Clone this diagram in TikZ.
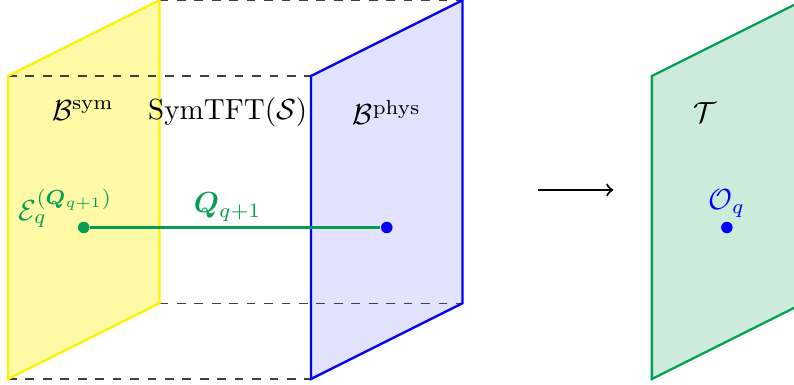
\documentclass[tikz,border=0pt]{standalone}
\usepackage{amsmath,amssymb,bm}
\usepackage{tikz}
\usepackage{xcolor}
\definecolor{linegreen}{RGB}{0,160,80}
\definecolor{planegreen}{RGB}{204,235,218}

\begin{document}
\begin{tikzpicture}[x=0.916cm, y=0.916cm, every node/.style={font=\normalsize}]
\useasboundingbox (-0.106,-0.079) rectangle (10.376,5.003);
% corners of the two boundaries
\coordinate (s1) at (0,0); \coordinate (s2) at (0,4); \coordinate (s3) at (2,5); \coordinate (s4) at (2,1);
\coordinate (p1) at (4,0); \coordinate (p2) at (4,4); \coordinate (p3) at (6,5); \coordinate (p4) at (6,1);
\fill[yellow!35] (s1)--(s2)--(s3)--(s4)--cycle;
\fill[blue!11] (p1)--(p2)--(p3)--(p4)--cycle;
\draw[dashed, black!75] (s1)--(p1); \draw[dashed, black!75] (s2)--(p2); \draw[dashed, black!75] (s3)--(p3); \draw[dashed, black!75] (s4)--(p4);
\draw[yellow, line width=0.8pt] (s1)--(s2)--(s3)--(s4)--cycle;
\draw[blue, line width=0.8pt] (p1)--(p2)--(p3)--(p4)--cycle;
\node (bsym) at (0.99,3.55) {$\mathcal{B}^{\text{sym}}$};
\node (symtft) at (2.9,3.52) {SymTFT$(\mathcal{S})$};
\node (bphys) at (5.0,3.52) {$\mathcal{B}^{\text{phys}}$};
\node[circle, fill=linegreen, inner sep=1.4pt] (e) at (1,2) {};
\node[circle, fill=blue, inner sep=1.4pt] (o) at (5,2) {};
\draw[linegreen, line width=0.8pt] (e)--(o);
\node[text=linegreen] (elab) at (0.76,2.25) {$\mathcal{E}_q^{(\bm{Q}_{q+1})}$};
\node[text=linegreen] (qlab) at (2.9,2.27) {$\bm{Q}_{q+1}$};
% reduction to the theory
\coordinate (a0) at (7.0,2.495); \coordinate (a1) at (7.99,2.495);
\draw[->, line width=0.7pt] (a0)--(a1);
\coordinate (t1) at (8.5,0); \coordinate (t2) at (8.5,4); \coordinate (t3) at (10.5,5); \coordinate (t4) at (10.5,1);
\draw[linegreen, fill=planegreen, line width=0.8pt] (t1)--(t2)--(t3)--(t4)--cycle;
\node (tlab) at (9.2,3.52) {$\mathcal{T}$};
\node[circle, fill=blue, inner sep=1.4pt] (oq) at (9.49,2) {};
\node[text=blue] (oqlab) at (9.49,2.32) {$\mathcal{O}_q$};
\end{tikzpicture}
\end{document}
